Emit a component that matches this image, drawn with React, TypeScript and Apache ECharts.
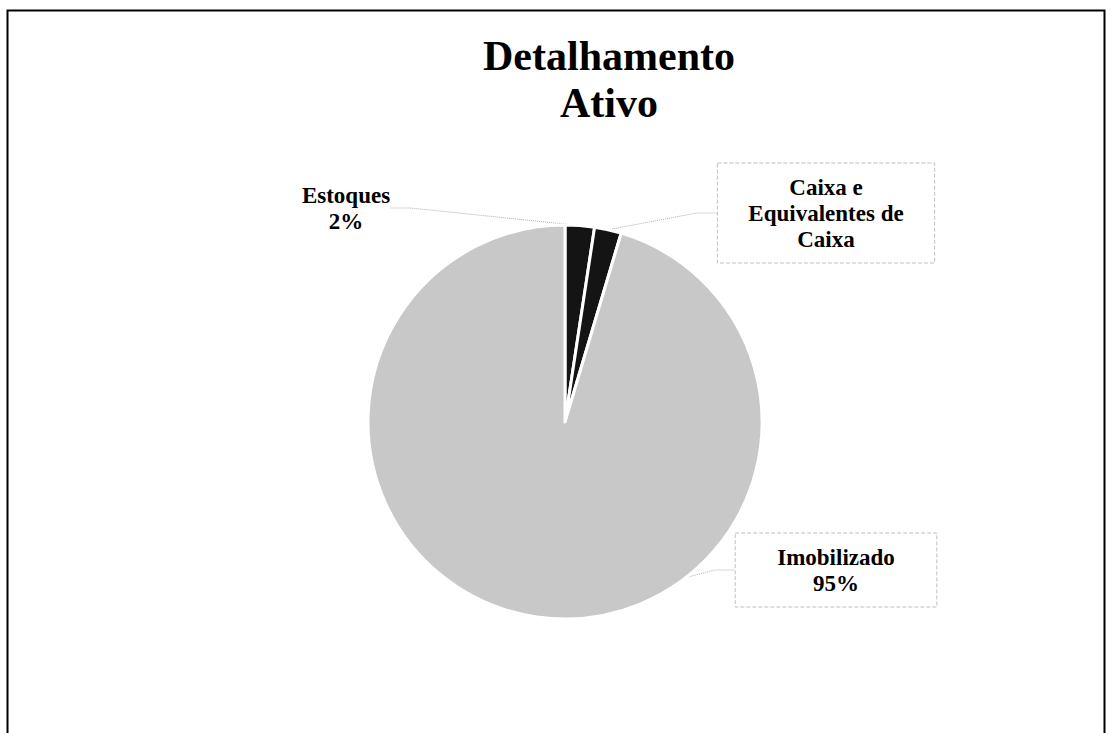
import React, { useEffect, useRef } from "react";
import * as echarts from "echarts";

const titleLines = ["Detalhamento", "Ativo"];
const categories = ["Estoques", "Caixa e\nEquivalentes de\nCaixa", "Imobilizado"];
const values = [2.4, 2.2, 95.4];
const showPercent = [true, false, true];
const sliceColors = ["#141414", "#141414", "#c8c8c8"];

export default function App() {
  const ref = useRef<HTMLDivElement>(null);
  useEffect(() => {
    const chart = echarts.init(ref.current!, undefined, { renderer: "svg" });
    const total = values.reduce((a, b) => a + b, 0);
    const labelPos: Record<number, { x: number; y: number }> = {
      0: { x: 346, y: 208 },
      1: { x: 826, y: 213 },
      2: { x: 836, y: 570 },
    };
    const boxPad: Record<number, number[]> = {
      0: [0, 0, 0, 0],
      1: [11, 31, 11, 31],
      2: [11, 42, 11, 42],
    };
    chart.setOption({
      animation: false,
      backgroundColor: "#ffffff",
      title: {
        text: titleLines.join("\n"),
        left: 604,
        top: 27,
        textAlign: "center",
        textStyle: {
          fontFamily: "Liberation Serif",
          fontWeight: "bold",
          fontSize: 42,
          lineHeight: 47,
          color: "#000",
        },
      },
      graphic: [
        {
          type: "rect",
          shape: { x: 7.5, y: 10.5, width: 1097, height: 740 },
          style: { fill: "none", stroke: "#000", lineWidth: 2 },
          silent: true,
        },
      ],
      series: [
        {
          type: "pie",
          center: [565, 422],
          radius: [0, 197],
          startAngle: 90,
          clockwise: true,
          avoidLabelOverlap: false,
          itemStyle: { borderColor: "#ffffff", borderWidth: 3 },
          emphasis: { disabled: true },
          labelLine: {
            show: true,
            length: 8,
            length2: 20,
            lineStyle: { color: "#b0b0b0", width: 1, type: "dotted" },
          },
          labelLayout: (params: any) => {
            const p = labelPos[params.dataIndex];
            return { x: p.x, y: p.y, align: "center", verticalAlign: "middle" };
          },
          data: categories.map((name, i) => ({
            name,
            value: values[i],
            itemStyle: { color: sliceColors[i] },
            label: {
              show: true,
              position: "outside",
              formatter: () =>
                showPercent[i]
                  ? `${name}\n${Math.round((values[i] / total) * 100)}%`
                  : name,
              fontFamily: "Liberation Serif",
              fontWeight: "bold",
              fontSize: 23,
              lineHeight: 26,
              color: "#000",
              align: "center",
              borderColor: i > 0 ? "#c0c0c0" : "transparent",
              borderWidth: i > 0 ? 1 : 0,
              borderType: "dashed",
              padding: boxPad[i],
            },
          })),
        },
      ],
    });
    return () => chart.dispose();
  }, []);
  return (
    <div
      ref={ref}
      style={{ position: "absolute", left: 0, top: 0, width: 1113, height: 733 }}
    />
  );
}
